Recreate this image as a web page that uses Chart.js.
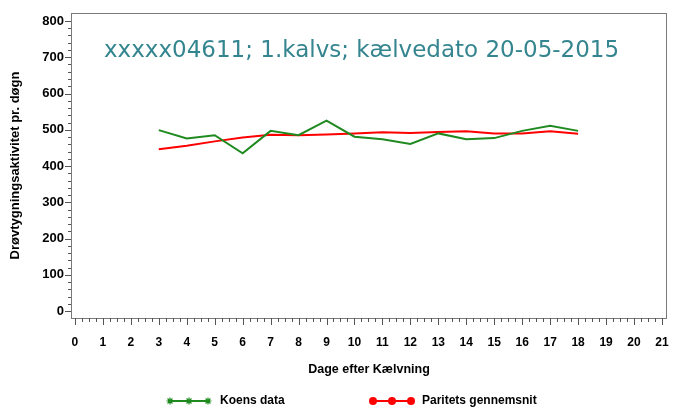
<!DOCTYPE html>
<html>
<head>
<meta charset="utf-8">
<script src="https://cdn.jsdelivr.net/npm/chart.js@4.4.0/dist/chart.umd.min.js"></script>
<style>
  html, body { margin: 0; padding: 0; background: #fff; }
  #wrap { width: 676px; height: 410px; position: relative; }
</style>
</head>
<body>
<div id="wrap"><canvas id="rumChart"></canvas></div>
<script>
const days = [3, 4, 5, 6, 7, 8, 9, 10, 11, 12, 13, 14, 15, 16, 17, 18];
const koensData = [499, 476, 485, 435, 497, 485, 525, 481, 474, 461, 490, 474, 477, 497, 511, 497];
const paritetsData = [446, 456, 468, 479, 486, 485, 487, 490, 493, 491, 494, 496, 490, 490, 496, 489];
const xTickValues = [0, 1, 2, 3, 4, 5, 6, 7, 8, 9, 10, 11, 12, 13, 14, 15, 16, 17, 18, 19, 20, 21];
const yTickValues = [0, 100, 200, 300, 400, 500, 600, 700, 800];
const chartTitle = 'xxxxx04611; 1.kalvs; kælvedato 20-05-2015';
const seriesNames = ['Koens data', 'Paritets gennemsnit'];

const green = '#1f8a1f';
const red = '#ff0000';
const axisGrey = '#7a7a7a';
const tickFont = { family: 'Arial, "Liberation Sans"', size: 13, weight: 'bold' };

// frame, minor ticks, title text and legend
const extras = {
    id: 'extras',
    afterDraw(chart) {
        const ctx = chart.ctx;
        const area = chart.chartArea;
        const xs = chart.scales.x;
        const ys = chart.scales.y;
        ctx.save();
        ctx.strokeStyle = axisGrey;
        ctx.lineWidth = 1;
        ctx.strokeRect(area.left + 0.5, area.top + 0.5, area.right - area.left - 1, area.bottom - area.top);

        ctx.strokeStyle = '#555';
        ctx.beginPath();
        for (let v = 0; v <= 800; v += 20) {
            const y = Math.round(ys.getPixelForValue(v)) + 0.5;
            const len = v % 100 === 0 ? 6 : 3;
            ctx.moveTo(area.left - len, y);
            ctx.lineTo(area.left, y);
        }
        for (let v = 0; v <= 21; v += 0.25) {
            const x = Math.round(xs.getPixelForValue(v)) + 0.5;
            const len = v % 1 === 0 ? 7 : 4;
            ctx.moveTo(x, area.bottom);
            ctx.lineTo(x, area.bottom + len);
        }
        ctx.stroke();

        ctx.fillStyle = '#34858f';
        ctx.font = '23px Tahoma, "DejaVu Sans"';
        ctx.textBaseline = 'alphabetic';
        ctx.fillText(chartTitle, 104, 57);

        // legend
        const ly = 401;
        ctx.lineWidth = 2;
        ctx.strokeStyle = green;
        ctx.beginPath();
        ctx.moveTo(168, ly); ctx.lineTo(210, ly);
        ctx.stroke();
        ctx.lineWidth = 1.2;
        [170, 189, 208].forEach(cx => {
            ctx.beginPath();
            for (let k = 0; k < 4; k++) {
                const a = k * Math.PI / 4;
                ctx.moveTo(cx - 3.5 * Math.cos(a), ly - 3.5 * Math.sin(a));
                ctx.lineTo(cx + 3.5 * Math.cos(a), ly + 3.5 * Math.sin(a));
            }
            ctx.stroke();
        });

        ctx.lineWidth = 2;
        ctx.strokeStyle = red;
        ctx.fillStyle = red;
        ctx.beginPath();
        ctx.moveTo(373, ly); ctx.lineTo(411, ly);
        ctx.stroke();
        [373, 392, 411].forEach(cx => {
            ctx.beginPath();
            ctx.arc(cx, ly, 4, 0, Math.PI * 2);
            ctx.fill();
        });

        ctx.fillStyle = '#000';
        ctx.font = 'bold 12px Arial, "Liberation Sans"';
        ctx.textBaseline = 'middle';
        ctx.fillText(seriesNames[0], 220, ly);
        ctx.fillText(seriesNames[1], 422, ly);
        ctx.restore();
    }
};

const ctx = document.getElementById('rumChart').getContext('2d');
const chart = new Chart(ctx, {
    type: 'line',
    data: {
        datasets: [{
            label: seriesNames[0],
            data: days.map((d, i) => ({ x: d, y: koensData[i] })),
            borderColor: green,
            borderWidth: 2,
            pointRadius: 0,
            tension: 0,
        }, {
            label: seriesNames[1],
            data: days.map((d, i) => ({ x: d, y: paritetsData[i] })),
            borderColor: red,
            borderWidth: 2,
            pointRadius: 0,
            tension: 0,
        }],
    },
    options: {
        responsive: true,
        maintainAspectRatio: false,
        animation: false,
        layout: { padding: { left: 0, top: 13, right: 9, bottom: 30 } },
        plugins: {
            legend: { display: false },
            tooltip: { enabled: false },
        },
        scales: {
            x: {
                type: 'linear',
                min: -0.14,
                max: 21.18,
                afterBuildTicks: s => { s.ticks = xTickValues.map(v => ({ value: v })); },
                afterFit: s => { s.height = 62; s.paddingLeft = 0; s.paddingRight = 0; },
                grid: { display: false, drawTicks: false },
                border: { display: false },
                ticks: { color: '#000', font: { ...tickFont, size: 12 }, padding: 17, maxRotation: 0, autoSkip: false },
                title: {
                    display: true,
                    text: 'Dage efter Kælvning',
                    color: '#000',
                    font: { family: 'Arial, "Liberation Sans"', size: 12.5, weight: 'bold' },
                    padding: { top: 0, bottom: 3 },
                },
            },
            y: {
                min: -19,
                max: 822,
                afterBuildTicks: s => { s.ticks = yTickValues.map(v => ({ value: v })); },
                afterFit: s => { s.width = 71; s.paddingTop = 0; s.paddingBottom = 0; },
                grid: { display: false, drawTicks: false },
                border: { display: false },
                ticks: { color: '#000', font: tickFont, padding: 7 },
                title: {
                    display: true,
                    text: 'Drøvtygningsaktivitet pr. døgn',
                    color: '#000',
                    font: { family: 'Arial, "Liberation Sans"', size: 13, weight: 'bold' },
                    padding: { top: 8, bottom: 0 },
                },
            },
        },
    },
    plugins: [extras],
});
</script>
</body>
</html>
